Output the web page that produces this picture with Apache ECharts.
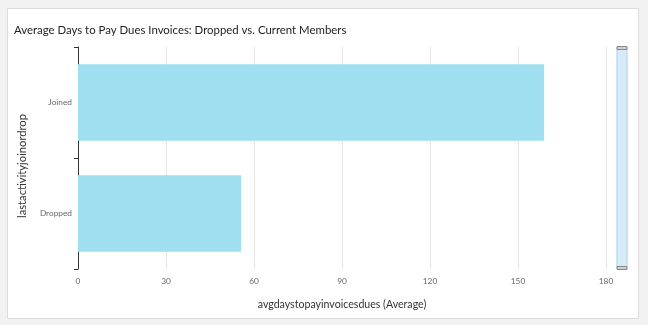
<!DOCTYPE html>
<html><head><meta charset="utf-8">
<script src="https://cdn.jsdelivr.net/npm/echarts@6/dist/echarts.min.js"></script>
<style>html,body{margin:0;padding:0;background:#f2f2f2;}#c{width:648px;height:325px;}</style>
</head><body><div id="c"></div>
<script>
const categories = ['Dropped', 'Joined'];
const values = [55.6, 158.9];
const xTicks = [0, 30, 60, 90, 120, 150, 180];
const title = 'Average Days to Pay Dues Invoices: Dropped vs. Current Members';
const xName = 'avgdaystopayinvoicesdues (Average)';
const yName = 'lastactivityjoinordrop';

const chart = echarts.init(document.getElementById('c'), null, {renderer: 'canvas'});
const font = 'Lato';
chart.setOption({
  backgroundColor: '#f2f2f2',
  animation: false,
  graphic: [{
    type: 'rect', z: -10, silent: true,
    shape: {x: 7.5, y: 8.5, width: 631, height: 310},
    style: {fill: '#ffffff', stroke: '#dcdcdc', lineWidth: 1}
  }],
  title: {
    text: title, left: 9, top: 20,
    textStyle: {fontFamily: font, fontSize: 11.4, fontWeight: 'normal', color: '#222'}
  },
  grid: {left: 78, right: 42, top: 47, bottom: 56, containLabel: false},
  xAxis: {
    type: 'value', min: xTicks[0], max: xTicks[xTicks.length - 1], interval: 30,
    name: xName, nameLocation: 'middle', nameGap: 30,
    nameTextStyle: {fontFamily: font, fontSize: 10.6, color: '#333'},
    axisLine: {show: false}, axisTick: {show: false},
    axisLabel: {fontFamily: font, fontSize: 8.3, color: '#666', margin: 8},
    splitLine: {show: true, lineStyle: {color: '#e6e6e6', width: 1}}
  },
  yAxis: {
    type: 'category', data: categories,
    name: yName, nameLocation: 'middle', nameGap: 50,
    nameTextStyle: {fontFamily: font, fontSize: 11.2, color: '#333', padding: [0, 16, 0, 0]},
    axisLine: {show: true, lineStyle: {color: '#333', width: 1}},
    axisTick: {show: true, length: 4, lineStyle: {color: '#333'}},
    axisLabel: {fontFamily: font, fontSize: 8.3, color: '#666', margin: 6},
    splitLine: {show: false}
  },
  dataZoom: [{
    type: 'slider', yAxisIndex: 0, right: 21, width: 11, top: 47, bottom: 56,
    showDetail: false, showDataShadow: false, brushSelect: false,
    backgroundColor: 'rgba(0,0,0,0)', borderColor: '#b5d6e8', borderRadius: 0,
    fillerColor: '#d5ebf7',
    handleIcon: 'path://M0,0 L3,0 L3,10 L0,10 Z', handleSize: '90%',
    handleStyle: {color: '#cfcfcf', borderColor: '#888'},
    moveHandleSize: 0,
    dataBackground: {lineStyle: {opacity: 0}, areaStyle: {opacity: 0}}
  }],
  series: [{
    type: 'bar', data: values, barCategoryGap: '31%',
    itemStyle: {color: '#a0dff0'}
  }]
});
</script></body></html>
